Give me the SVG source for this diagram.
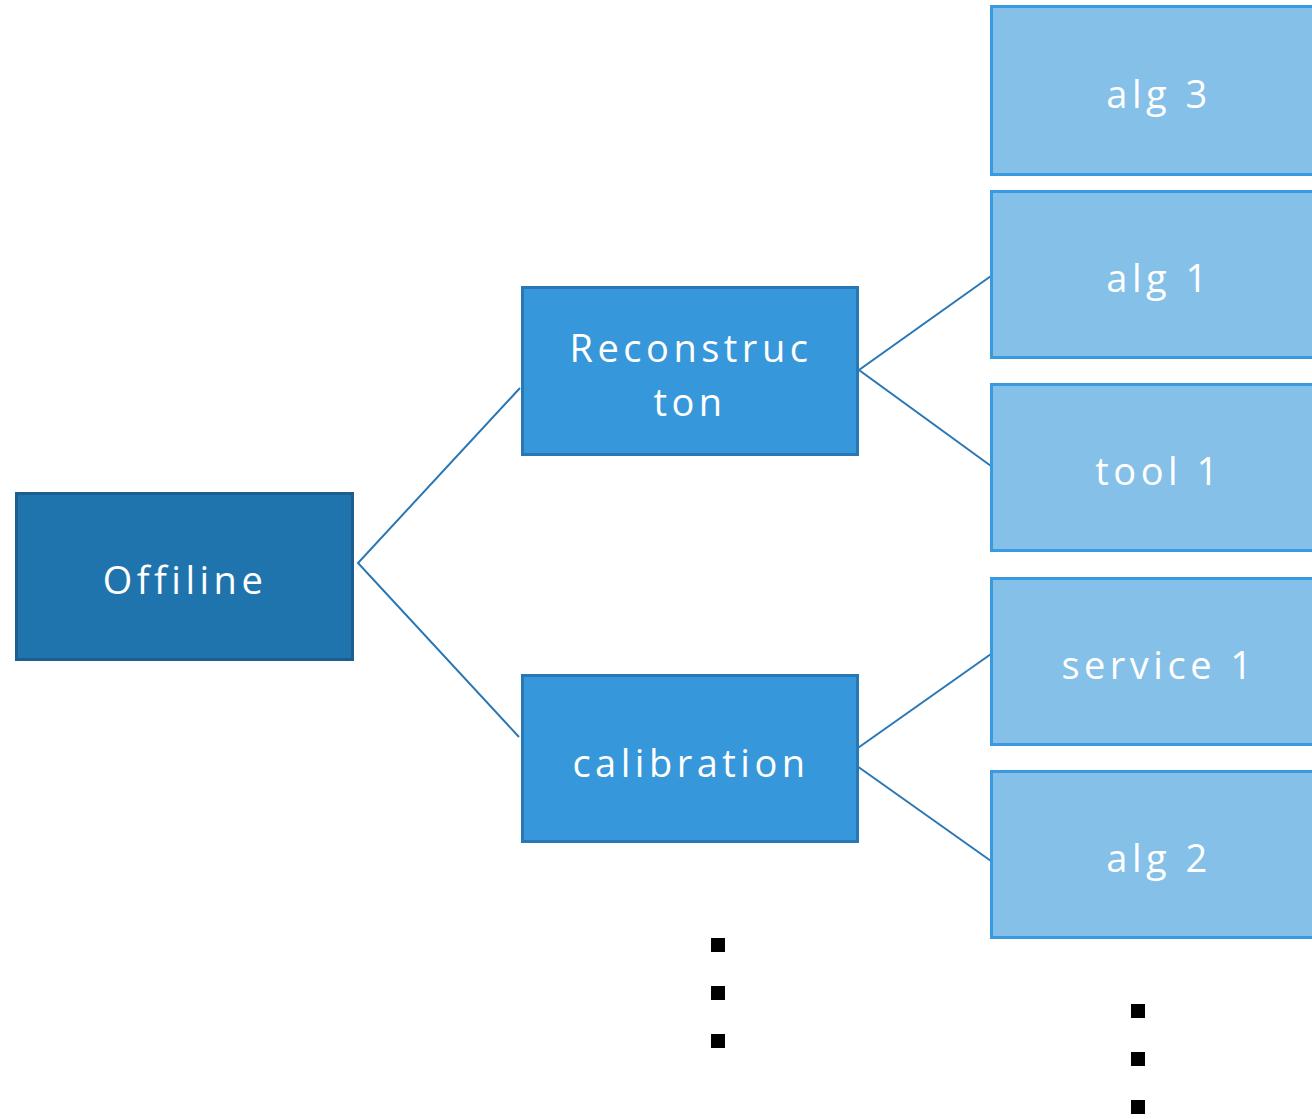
<svg xmlns="http://www.w3.org/2000/svg" width="1312" height="1119" viewBox="0 0 1312 1119">
<style>
text{font-family:"Open Sans","Noto Sans","DejaVu Sans",sans-serif;font-size:38px;fill:#ffffff;text-anchor:middle;letter-spacing:4.5px}
.root{fill:#2074ad;stroke:#1c5e8e;stroke-width:3}
.mid{fill:#3797db;stroke:#2a77b5;stroke-width:3}
.leaf{fill:#85c0e8;stroke:#3a9ae0;stroke-width:3}
.edge{stroke:#2a77b5;stroke-width:2;fill:none}
.dot{fill:#000000}
</style>
<rect width="1312" height="1119" fill="#ffffff"/>
<g id="connectors">
<polyline class="edge" points="520,388 358,563 519,737"/>
<polyline class="edge" points="991,276 859,370 991,466"/>
<line class="edge" x1="855" y1="750" x2="991" y2="654"/>
<line class="edge" x1="857" y1="766" x2="991" y2="861"/>
</g>
<g id="offline"><rect class="root" x="16.5" y="493.5" width="336" height="166"/><text x="185" y="594">Offiline</text></g>
<g id="reconstruction"><rect class="mid" x="522.5" y="287.5" width="335" height="167"/><text x="691" y="362">Reconstruc</text><text x="690" y="416">ton</text></g>
<g id="calibration"><rect class="mid" x="522.5" y="675.5" width="335" height="166"/><text x="691" y="777">calibration</text></g>
<g id="alg3"><rect class="leaf" x="991.5" y="6.5" width="330" height="168"/><text x="1159" y="108">alg 3</text></g>
<g id="alg1"><rect class="leaf" x="991.5" y="191.5" width="330" height="166"/><text x="1159" y="292">alg 1</text></g>
<g id="tool1"><rect class="leaf" x="991.5" y="384.5" width="330" height="166"/><text x="1159" y="485">tool 1</text></g>
<g id="service1"><rect class="leaf" x="991.5" y="578.5" width="330" height="166"/><text x="1159" y="679">service 1</text></g>
<g id="alg2"><rect class="leaf" x="991.5" y="771.5" width="330" height="166"/><text x="1159" y="872">alg 2</text></g>
<g id="dots">
<rect class="dot" x="711" y="938" width="14" height="14"/>
<rect class="dot" x="711" y="986" width="14" height="14"/>
<rect class="dot" x="711" y="1034" width="14" height="14"/>
<rect class="dot" x="1131" y="1004" width="14" height="14"/>
<rect class="dot" x="1131" y="1052" width="14" height="14"/>
<rect class="dot" x="1131" y="1100" width="14" height="14"/>
</g>
</svg>
